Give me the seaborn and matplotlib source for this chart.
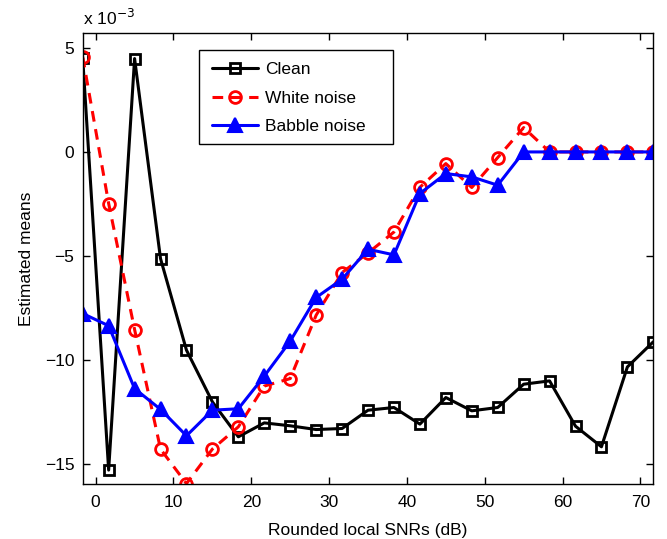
import numpy as np
import pandas as pd
import matplotlib
matplotlib.use("Agg")
import matplotlib.pyplot as plt
from matplotlib.patches import Rectangle
import seaborn as sns

# x positions (rounded local SNRs, dB)
snr = [-1.667, 1.667, 5.0, 8.333, 11.667, 15.0, 18.333, 21.667, 25.0, 28.333,
       31.667, 35.0, 38.333, 41.667, 45.0, 48.333, 51.667, 55.0, 58.333,
       61.667, 65.0, 68.333, 71.667]

# values in units of 1e-3
clean = [4.5, -15.3, 4.49, -5.13, -9.53, -12.02, -13.7, -13.03, -13.17, -13.35,
         -13.3, -12.42, -12.29, -13.09, -11.81, -12.45, -12.29, -11.17, -11.01,
         -13.19, -14.18, -10.34, -9.13]
white = [4.57, -2.48, -8.54, -14.29, -15.95, -14.29, -13.22, -11.26, -10.9, -7.85,
         -5.8, -4.86, -3.85, -1.7, -0.56, -1.71, -0.27, 1.17, 0.0,
         0.0, 0.0, 0.0, 0.0]
babble = [-7.77, -8.36, -11.38, -12.38, -13.65, -12.42, -12.35, -10.78, -9.1, -7.0,
          -6.12, -4.68, -4.95, -2.0, -1.04, -1.2, -1.6, 0.0, 0.0,
          0.0, 0.0, 0.0, 0.0]

labels = ["Clean", "White noise", "Babble noise"]

sns.set_style("ticks")
plt.rcParams['font.family'] = ['Liberation Sans', 'DejaVu Sans']
plt.rcParams['text.color'] = 'black'
plt.rcParams['axes.labelcolor'] = 'black'
plt.rcParams['xtick.color'] = 'black'
plt.rcParams['ytick.color'] = 'black'

fig = plt.figure(figsize=(6.67, 5.39), dpi=100)
ax = fig.add_axes([0.124, 0.102, 0.8555, 0.8368])

df_c = pd.DataFrame({"x": snr, "y": clean})
df_w = pd.DataFrame({"x": snr, "y": white})
df_b = pd.DataFrame({"x": snr, "y": babble})

sns.lineplot(data=df_c, x="x", y="y", ax=ax, color="black", linewidth=2.2,
             marker="s", markersize=6.5, markerfacecolor="none",
             markeredgecolor="black", markeredgewidth=2.0, label=labels[0])
sns.lineplot(data=df_w, x="x", y="y", ax=ax, color="#ff0000", linewidth=2.2,
             linestyle=(0, (3.5, 2.5)), marker="o", markersize=8.5,
             markerfacecolor="none", markeredgecolor="#ff0000",
             markeredgewidth=2.0, label=labels[1])
sns.lineplot(data=df_b, x="x", y="y", ax=ax, color="#0000ff", linewidth=2.2,
             marker="^", markersize=10, markerfacecolor="#0000ff",
             markeredgecolor="#0000ff", markeredgewidth=1.5, label=labels[2])

ax.set_xlim(-1.667, 71.667)
ax.set_ylim(-15.97, 5.72)
ax.set_xticks([0, 10, 20, 30, 40, 50, 60, 70])
ax.set_yticks([-15, -10, -5, 0, 5])
ax.tick_params(direction="in", length=5, width=1.0, top=True, right=True,
               labelsize=12.5, colors="black")
ax.tick_params(axis="x", pad=8)
ax.tick_params(axis="y", pad=6)
for s in ax.spines.values():
    s.set_visible(True)
    s.set_linewidth(1.0)
    s.set_color("black")

ax.set_xlabel("Rounded local SNRs (dB)", fontsize=12.5, labelpad=9)
ax.set_ylabel("Estimated means", fontsize=12.5, labelpad=8)
ax.text(0.0, 1.012, r"x 10$^{-3}$", transform=ax.transAxes, fontsize=12.5,
        ha="left", va="bottom")

# legend frame (MATLAB-style box with extra right padding)
ax.add_patch(Rectangle((0.2038, 0.7539), 0.34, 0.2084, transform=ax.transAxes,
                       facecolor="white", edgecolor="black", linewidth=1.0,
                       zorder=4))
leg = ax.legend(loc="upper left", bbox_to_anchor=(0.2045, 0.965), fontsize=12.5,
                frameon=False, handlelength=2.6, borderpad=0.75,
                labelspacing=0.78, handletextpad=0.45, borderaxespad=0)
leg.set_zorder(5)

fig.savefig("out.png", dpi=100)
